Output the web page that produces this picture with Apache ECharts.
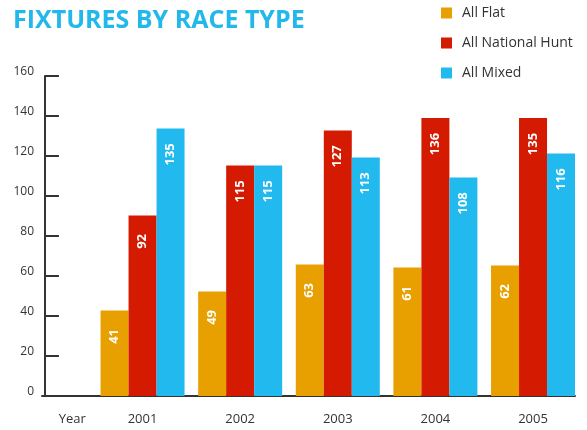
<!DOCTYPE html>
<html>
<head>
<meta charset="utf-8">
<script src="https://cdn.jsdelivr.net/npm/echarts@6/dist/echarts.min.js"></script>
<style>
  html, body { margin: 0; padding: 0; background: #fff; }
  #chart { width: 587px; height: 430px; }
</style>
</head>
<body>
<div id="chart"></div>
<script>
// 年份
var years = ['2001', '2002', '2003', '2004', '2005'];
var yTicks = [0, 20, 40, 60, 80, 100, 120, 140, 160];

// 柱子高度（按图上量出来的）
var flatHeights = [42.8, 52.3, 65.8, 64.3, 65.3];
var huntHeights = [90.3, 115.3, 132.8, 139, 139];
var mixedHeights = [133.8, 115.3, 119.3, 109.3, 121.3];

// 柱子上写的数字
var flatLabels = [41, 49, 63, 61, 62];
var huntLabels = [92, 115, 127, 136, 135];
var mixedLabels = [135, 115, 113, 108, 116];

var YEAR_AT = 0.28; // "Year" 标签的位置

function toPoints(arr) {
  return arr.map(function (v, i) { return [i + 1, v]; });
}

var font = 'Open Sans';

function barSeries(name, color, heights, labels) {
  return {
    name: name,
    type: 'bar',
    barWidth: 28,
    barGap: '0%',
    itemStyle: { color: color },
    label: {
      show: true,
      position: 'insideTop',
      distance: 26,
      rotate: 90,
      align: 'center',
      verticalAlign: 'middle',
      color: '#fff',
      fontFamily: font,
      fontWeight: 'bold',
      fontSize: 13,
      formatter: function (p) { return labels[p.dataIndex]; }
    },
    data: toPoints(heights)
  };
}

var chart = echarts.init(document.getElementById('chart'));
var option = {
  animation: false,
  title: {
    text: 'FIXTURES BY RACE TYPE',
    left: 8,
    top: 3,
    textStyle: { color: '#22b8ec', fontFamily: font, fontWeight: 'bold', fontSize: 25 }
  },
  legend: {
    orient: 'vertical',
    left: 436,
    top: 1,
    itemWidth: 11,
    itemHeight: 11,
    itemGap: 16,
    icon: 'rect',
    textStyle: { color: '#333', fontFamily: font, fontSize: 14, padding: [0, 0, 0, 5] },
    data: ['All Flat', 'All National Hunt', 'All Mixed']
  },
  grid: { left: 42, right: 12, top: 76, bottom: 34 },
  xAxis: {
    type: 'value',
    min: -0.03,
    max: 5.43,
    splitLine: { show: false },
    axisTick: { show: false },
    axisLine: { onZero: false, lineStyle: { color: '#333', width: 2 } },
    axisLabel: {
      customValues: [YEAR_AT].concat(years.map(function (y, i) { return i + 1; })),
      formatter: function (v) { return v < 1 ? 'Year' : years[Math.round(v) - 1]; },
      color: '#333',
      fontFamily: font,
      fontSize: 13,
      margin: 17
    }
  },
  yAxis: {
    type: 'value',
    min: yTicks[0],
    max: yTicks[yTicks.length - 1],
    interval: 20,
    splitLine: { show: false },
    axisLine: { show: true, lineStyle: { color: '#333', width: 2 } },
    axisTick: { show: true, inside: true, length: 14, lineStyle: { color: '#333', width: 2 } },
    axisLabel: {
      color: '#333',
      fontFamily: font,
      fontSize: 12,
      margin: 8,
      verticalAlign: 'bottom',
      lineHeight: 12,
      padding: [0, 0, -2, 0]
    }
  },
  series: [
    barSeries('All Flat', '#e89f00', flatHeights, flatLabels),
    barSeries('All National Hunt', '#d41a00', huntHeights, huntLabels),
    barSeries('All Mixed', '#22b9ee', mixedHeights, mixedLabels)
  ]
};
chart.setOption(option);
</script>
</body>
</html>
